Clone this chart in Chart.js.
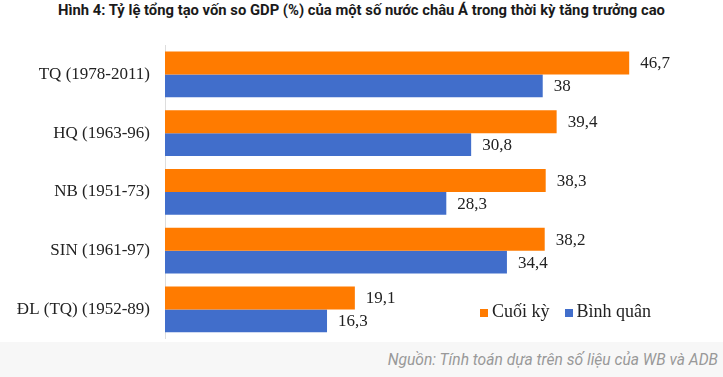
<!DOCTYPE html>
<html>
<head>
<meta charset="utf-8">
<script src="https://cdn.jsdelivr.net/npm/chart.js@4"></script>
<style>
  body { margin: 0; width: 723px; height: 377px; background: #fff; position: relative; overflow: hidden; }
  #title { position: absolute; left: 0; top: 1px; width: 723px; text-align: center;
           font: bold 14.8px Roboto, "Liberation Sans", sans-serif; color: #1a1a1a; white-space: nowrap; }
  #chart { position: absolute; left: 0; top: 0; }
  #legend { position: absolute; left: 480px; top: 301px; font: 18px "Liberation Serif", serif; color: #222; white-space: nowrap; }
  #legend span.item { margin-right: 15px; }
  #legend i { display: inline-block; width: 8px; height: 8px; margin-right: 4px; }
  #footer { position: absolute; left: 0; top: 342px; width: 723px; height: 35px; background: #f7f7f7; }
  #footer div { position: absolute; right: 5px; top: 9px; font: italic 15.6px Roboto, sans-serif; color: #999; white-space: nowrap; }
</style>
</head>
<body>
<div id="title">Hình 4: Tỷ lệ tổng tạo vốn so GDP (%) của một số nước châu Á trong thời kỳ tăng trưởng cao</div>
<canvas id="chart" width="723" height="364"></canvas>
<div id="legend"></div>
<div id="footer"><div>Nguồn: Tính toán dựa trên số liệu của WB và ADB</div></div>
<script>
const categories = ["TQ (1978-2011)", "HQ (1963-96)", "NB (1951-73)", "SIN (1961-97)", "ĐL (TQ) (1952-89)"];
const cuoiKy = [46.7, 39.4, 38.3, 38.2, 19.1];
const binhQuan = [38, 30.8, 28.3, 34.4, 16.3];
const seriesNames = ["Cuối kỳ", "Bình quân"];
const colors = ["#ff7b00", "#416ecb"];

// value labels next to each bar
const valueLabels = {
    id: "valueLabels",
    afterDatasetsDraw(chart) {
        const ctx = chart.ctx;
        ctx.save();
        ctx.font = '17px "Liberation Serif", serif';
        ctx.fillStyle = "#222";
        ctx.textBaseline = "middle";
        chart.data.datasets.forEach((ds, i) => {
            chart.getDatasetMeta(i).data.forEach((bar, j) => {
                const txt = String(ds.data[j]).replace(".", ",");
                ctx.fillText(txt, bar.x + 11, bar.y + 1);
            });
        });
        ctx.restore();
    }
};

new Chart(document.getElementById("chart"), {
    type: "bar",
    data: {
        labels: categories,
        datasets: [
            { label: seriesNames[0], data: cuoiKy, backgroundColor: colors[0] },
            { label: seriesNames[1], data: binhQuan, backgroundColor: colors[1] }
        ]
    },
    options: {
        indexAxis: "y",
        responsive: false,
        animation: false,
        layout: { padding: { top: 45, bottom: 4, right: 61, left: 0 } },
        categoryPercentage: 0.78,
        barPercentage: 1,
        scales: {
            x: { display: false, min: 0, max: 50 },
            y: {
                afterFit: function (scale) { scale.width = 165; },
                grid: { display: false, drawTicks: false },
                border: { display: true, color: "#dddddd", width: 1 },
                ticks: {
                    padding: 15,
                    color: "#222",
                    font: { family: "Liberation Serif", size: 17 }
                }
            }
        },
        plugins: {
            legend: { display: false },
            tooltip: { enabled: false }
        }
    },
    plugins: [valueLabels]
});

const legend = document.getElementById("legend");
seriesNames.forEach((name, i) => {
    const item = document.createElement("span");
    item.className = "item";
    item.innerHTML = '<i style="background:' + colors[i] + '"></i>' + name;
    legend.appendChild(item);
});
</script>
</body>
</html>
